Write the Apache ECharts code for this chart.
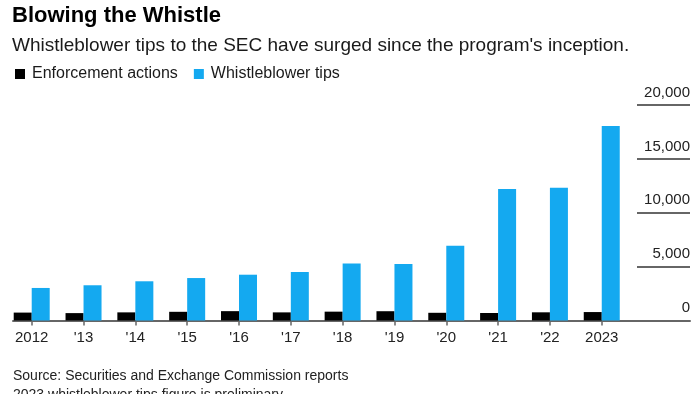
<!DOCTYPE html>
<html><head><meta charset="utf-8">
<script src="https://cdn.jsdelivr.net/npm/echarts@6/dist/echarts.min.js"></script>
<style>html,body{margin:0;padding:0;background:#fff}#c{width:700px;height:394px}</style>
</head><body><div id="c"></div>
<script>
const years = [2012, 2013, 2014, 2015, 2016, 2017, 2018, 2019, 2020, 2021, 2022, 2023];
const yearLabels = ['2012', "'13", "'14", "'15", "'16", "'17", "'18", "'19", "'20", "'21", "'22", '2023'];
const enforcementActions = [734, 686, 755, 807, 868, 754, 821, 862, 715, 697, 760, 784];
const whistleblowerTips = [3020, 3270, 3640, 3940, 4250, 4500, 5300, 5240, 6940, 12200, 12320, 18050];
const yTicks = [0, 5000, 10000, 15000, 20000];

const FONT = "'Liberation Sans', Arial, sans-serif";
const chart = echarts.init(document.getElementById('c'), null, { renderer: 'canvas' });
const byYear = arr => years.map((y, i) => [y, arr[i]]);

chart.setOption({
  animation: false,
  backgroundColor: '#fff',
  textStyle: { fontFamily: FONT },
  graphic: [
    { type: 'text', left: 12, top: 5, style: { text: 'Blowing the Whistle', font: "bold 22px " + FONT, fill: '#000' } },
    { type: 'text', left: 12, top: 36, style: { text: "Whistleblower tips to the SEC have surged since the program's inception.", font: "19px " + FONT, fill: '#1a1a1a' } },
    { type: 'text', left: 13, top: 369, style: { text: 'Source: Securities and Exchange Commission reports', font: "14px " + FONT, fill: '#222' } },
    { type: 'text', left: 13, top: 388, style: { text: '2023 whistleblower tips figure is preliminary', font: "14px " + FONT, fill: '#222' } }
  ],
  legend: {
    left: 10, top: 61, itemWidth: 10, itemHeight: 10, itemGap: 16, icon: 'rect',
    textStyle: { fontSize: 16, color: '#1a1a1a', fontFamily: FONT, padding: [0, 0, 0, 2] },
    data: ['Enforcement actions', 'Whistleblower tips']
  },
  grid: [
    { left: 13, right: 10, top: 105, bottom: 73.5 },
    { left: 637, right: 10, top: 105, bottom: 73.5 }
  ],
  xAxis: [
    {
      gridIndex: 0, type: 'value', min: 2011.639, max: 2024.703,
      axisLine: { show: true, lineStyle: { color: '#666', width: 2 } },
      axisTick: { show: true, customValues: years, length: 5, lineStyle: { color: '#666', width: 1.5 } },
      axisLabel: {
        customValues: years, margin: 10, fontSize: 15, color: '#222', fontFamily: FONT,
        formatter: v => yearLabels[years.indexOf(v)]
      },
      splitLine: { show: false }
    },
    { gridIndex: 1, type: 'value', show: false, min: 0, max: 1 }
  ],
  yAxis: [
    { gridIndex: 0, type: 'value', min: 0, max: 20000, show: false, splitLine: { show: false } },
    {
      gridIndex: 1, type: 'value', position: 'right', min: yTicks[0], max: yTicks[yTicks.length - 1], interval: 5000,
      axisLine: { show: false }, axisTick: { show: false },
      splitLine: { show: true, lineStyle: { color: '#666', width: 2 } },
      axisLabel: {
        inside: true, margin: 0, fontSize: 15, color: '#222', fontFamily: FONT,
        verticalAlign: 'bottom', padding: [0, 0, 5, 0],
        formatter: v => v.toLocaleString('en-US')
      }
    }
  ],
  series: [
    {
      name: 'Enforcement actions', type: 'bar', xAxisIndex: 0, yAxisIndex: 0,
      barWidth: 18, barGap: '0%', itemStyle: { color: '#000' },
      data: byYear(enforcementActions)
    },
    {
      name: 'Whistleblower tips', type: 'bar', xAxisIndex: 0, yAxisIndex: 0,
      barWidth: 18, barGap: '0%', itemStyle: { color: '#14A9F0' },
      data: byYear(whistleblowerTips)
    }
  ]
});
</script>
</body></html>
